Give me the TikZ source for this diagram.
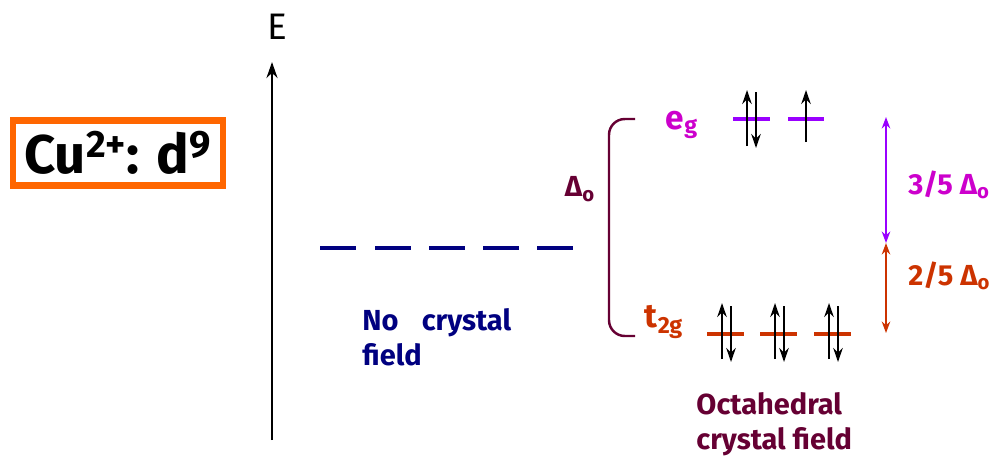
\documentclass[tikz,border=0pt]{standalone}
\usepackage{fontspec}
\setmainfont{Fira Sans}
\usetikzlibrary{arrows.meta, positioning}
\definecolor{cfNavy}{HTML}{000080}
\definecolor{cfMaroon}{HTML}{660033}
\definecolor{cfMagenta}{HTML}{CC00CC}
\definecolor{cfViolet}{HTML}{9900FF}
\definecolor{cfRust}{HTML}{CC3300}
\definecolor{cfOrange}{HTML}{FF6600}
\tikzset{
  % pixel-like units, y running downwards
  every picture/.append style = {line width=0.7pt, >={Stealth[length=2.4mm]}},
  level/.style     = {line width=2.6pt},
  spin/.style      = {-{Stealth[length=2.8mm, width=1.9mm]}, line width=1.2pt, black},
  split/.style     = {{Stealth[length=2.3mm, width=1.7mm]}-{Stealth[length=2.3mm, width=1.7mm]}, line width=1.2pt},
  lbl/.style       = {font=\fontsize{16.5}{20}\selectfont\bfseries},
  ionbox/.style    = {draw=cfOrange, line width=3.8pt, minimum height=1.3cm,
                      inner sep=6pt, font=\fontsize{31}{36}\selectfont\bfseries},
}
\begin{document}
\begin{tikzpicture}[x=0.02cm, y=-0.02cm]
  \useasboundingbox (0,0) rectangle (994,461);
  % --- ion label and energy axis -----------------------------------------
  \node[ionbox, minimum width=4.2cm] (ion) at (118,153) {Cu\textsuperscript{2+}: d\textsuperscript{9}};
  \coordinate (axbot) at (272,440);
  \coordinate (axtop) at (272,62);
  \draw[-{Stealth[length=3.2mm, width=2.2mm]}, line width=1.7pt] (axbot) -- (axtop);
  \node[font=\fontsize{21}{24}\selectfont] (E) at (277,27) {E};
  % --- free ion: five degenerate d levels --------------------------------
  \foreach \x in {320,375,429,483,537}
    \draw[level, cfNavy] (\x,248) -- ++(36,0);
  \node[lbl, cfNavy, align=left, anchor=north west] (free) at (356,302)
    {No\hspace{0.8em}crystal\\field};
  % --- octahedral splitting ----------------------------------------------
  \draw[cfMaroon, line width=1.4pt, rounded corners=9] (635,119) -- (609,119) -- (609,336) -- (635,336);
  \node[lbl, cfMaroon] (delta) at (580,189) {Δ\textsubscript{o}};
  \node[lbl, cfMagenta, font=\fontsize{19}{22}\selectfont\bfseries] (eg) at (682,125) {e\textsubscript{g}};
  \node[lbl, cfRust, font=\fontsize{19}{22}\selectfont\bfseries] (t2g) at (664,322) {t\textsubscript{2g}};
  % e_g: one pair, one single
  \draw[level, cfViolet] (733,119) -- (770,119);
  \draw[level, cfViolet] (788,119) -- (824,119);
  \draw[spin] (747,146) -- (747,90);
  \draw[spin] (756,92) -- (756,148);
  \draw[spin] (806,142) -- (806,90);
  % t_2g: three pairs
  \foreach \x in {707,760,814} {
    \draw[level, cfRust] (\x,334) -- ++(37,0);
    \draw[spin] (\x+15,359) -- (\x+15,303);
    \draw[spin] (\x+24,306) -- (\x+24,362);
  }
  \node[lbl, cfMaroon, align=left, anchor=north west] (oct) at (690,386)
    {Octahedral\\crystal field};
  % --- barycentre fractions ----------------------------------------------
  \coordinate (egtop) at (886,117);
  \coordinate (bary) at (886,243);
  \coordinate (t2bot) at (886,333);
  \draw[split, cfViolet] (egtop) -- (bary);
  \draw[split, cfRust] (bary) -- (t2bot);
  \node[lbl, cfMagenta, anchor=west] (big) at (902,185) {3/5 Δ\textsubscript{o}};
  \node[lbl, cfRust, anchor=west] (small) at (902,276) {2/5 Δ\textsubscript{o}};
\end{tikzpicture}
\end{document}
